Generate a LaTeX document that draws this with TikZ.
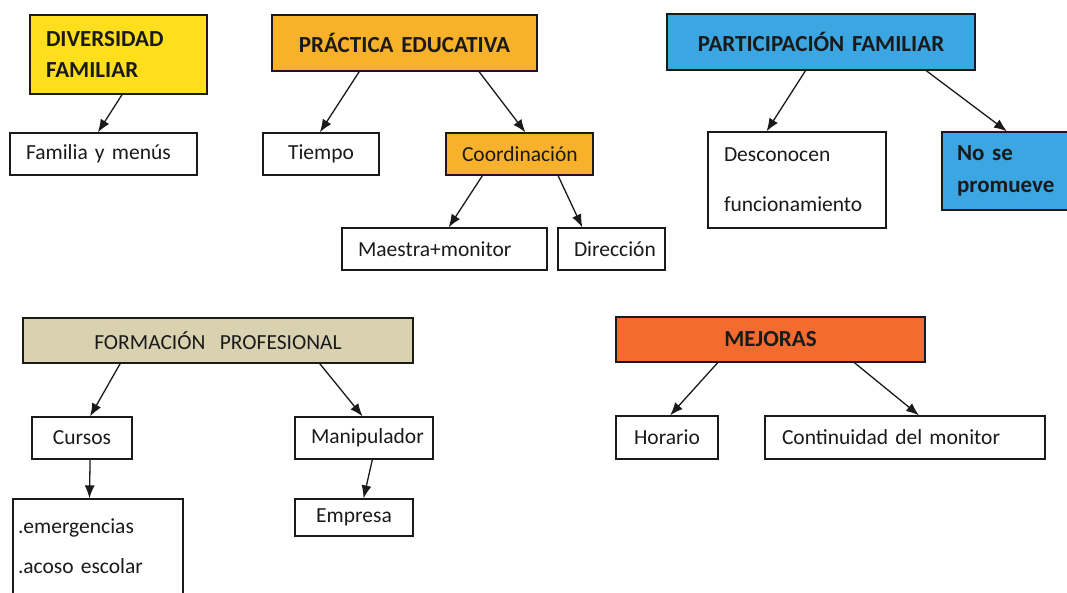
\documentclass[tikz,border=0pt]{standalone}
\usepackage{fontspec}
\setmainfont{Carlito}
\usetikzlibrary{
  arrows.meta,
  calc
}
\definecolor{mapInk}{HTML}{1A1A1A}
\definecolor{mapYellow}{HTML}{FFDE1C}
\definecolor{mapAmber}{HTML}{F8B12A}
\definecolor{mapSky}{HTML}{3BA6E2}
\definecolor{mapKhaki}{HTML}{D9D2B1}
\definecolor{mapCoral}{HTML}{F36B2E}
\newcommand\mapsize[2]{\fontsize{#1}{#2}\selectfont\spaceskip=0.2em\relax}
\tikzset{
  every node/.style={font=\mapsize{21.5}{25}, text=mapInk},
  leaf/.style={
    draw=mapInk,
    line width=1.2pt,
    fill=white,
    inner xsep=16pt,
    inner ysep=0pt,
    align=center
  },
  topic/.style={
    leaf,
    font=\mapsize{23}{25}\bfseries
  },
  link/.style={
    -{Latex[length=13pt,width=10pt]},
    line width=1.3pt,
    draw=mapInk
  }
}

\begin{document}
\begin{tikzpicture}[x=1pt,y=-1pt]
  \path[use as bounding box, fill=white] (0,0) rectangle (1067,593);

  % upper row
  \node[topic, fill=mapYellow, text width=145pt, minimum height=79pt, align=left,
        font=\mapsize{23}{31}\bfseries] (div) at (118.5,54.5)
    {DIVERSIDAD\\FAMILIAR};
  \node[leaf, text width=155pt, minimum height=42pt, align=left] (fam) at (103.5,154)
    {Familia y menús};

  \node[topic, fill=mapAmber, text width=233pt, minimum height=56pt] (prac) at (404.5,43)
    {PRÁCTICA EDUCATIVA};
  \node[leaf, text width=84pt, minimum height=42pt] (tiem) at (321,154) {Tiempo};
  \node[leaf, fill=mapAmber, text width=115pt, minimum height=42pt] (coor) at (519.5,154)
    {Coordinación};
  \node[leaf, text width=173pt, minimum height=42pt, align=left] (maes) at (444.5,249)
    {Maestra+monitor};
  \node[leaf, text width=75pt, minimum height=42pt] (dir) at (611.5,249) {Dirección};

  \node[topic, fill=mapSky, text width=276pt, minimum height=56pt] (part) at (821,42)
    {PARTICIPACIÓN FAMILIAR};
  \node[leaf, text width=146pt, minimum height=96pt, align=left,
        font=\mapsize{21.5}{50}] (desc) at (797,180)
    {Desconocen\\funcionamiento};
  \node[topic, fill=mapSky, text width=100pt, inner xsep=15pt, minimum height=78pt,
        align=left, font=\mapsize{23}{32}\bfseries] (nose) at (1007,171)
    {No se\\promueve};

  % lower row
  \node[leaf, fill=mapKhaki, text width=358pt, minimum height=45pt] (form) at (218,340.5)
    {FORMACIÓN\ \ PROFESIONAL};
  \node[leaf, text width=68pt, minimum height=42pt] (curs) at (82,438) {Cursos};
  \node[leaf, text width=106pt, minimum height=42pt] (mani) at (364,438) {Manipulador};
  \node[leaf, text width=160pt, inner xsep=5pt, minimum height=95pt, align=left,
        font=\mapsize{21.5}{40}] (emer) at (98,546.5)
    {.emergencias\\.acoso escolar};
  \node[leaf, text width=86pt, minimum height=37pt] (empr) at (354,517.5) {Empresa};

  \node[topic, fill=mapCoral, text width=277pt, minimum height=45pt] (mej) at (770.5,339.5)
    {MEJORAS};
  \node[leaf, text width=70pt, minimum height=43pt] (hor) at (667,437.5) {Horario};
  \node[leaf, text width=246pt, inner xsep=17pt, minimum height=43pt, align=left] (cont)
    at (905,437.5) {Continuidad del monitor};

  \foreach \a/\fa/\b/\fb in {
    div/0.52/fam/0.47,
    prac/0.33/tiem/0.49,
    prac/0.78/coor/0.54,
    coor/0.25/maes/0.52,
    coor/0.76/dir/0.23,
    part/0.45/desc/0.33,
    part/0.84/nose/0.5,
    form/0.25/curs/0.58,
    form/0.76/mani/0.49,
    curs/0.58/emer/0.45,
    mani/0.56/empr/0.58,
    mej/0.33/hor/0.53,
    mej/0.77/cont/0.55
  }{
    \draw[link] ($(\a.south west)!\fa!(\a.south east)$) -- ($(\b.north west)!\fb!(\b.north east)$);
  }
\end{tikzpicture}
\end{document}
